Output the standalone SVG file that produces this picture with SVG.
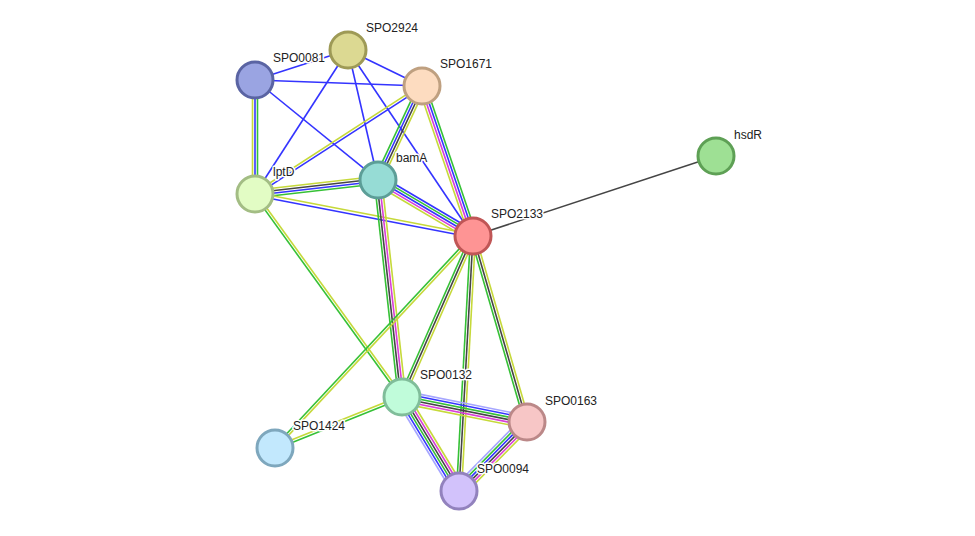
<svg xmlns="http://www.w3.org/2000/svg" width="975" height="536" viewBox="0 0 975 536">
<style>
line{stroke-width:1.6;fill:none}
.g{stroke:#36c136}.y{stroke:#c6d93a}.b{stroke:#3434ff}.k{stroke:#454545}.m{stroke:#d83ed8}.l{stroke:#a6a6ff}
.n circle{stroke-width:3}
text{font-family:"Liberation Sans",Arial,sans-serif;font-size:12px;fill:#222;stroke:#fff;stroke-width:3px;paint-order:stroke;stroke-linejoin:round}
</style>
<rect width="975" height="536" fill="#fff"/>
<g id="edges">
<g transform="translate(255,80) rotate(-17.88)"><line x2="97.7" class="b"/></g>
<g transform="translate(255,80) rotate(2.06)"><line x2="167.1" class="b"/></g>
<g transform="translate(255,80) rotate(39.11)"><line x2="158.5" class="b"/></g>
<g transform="translate(255,80) rotate(90)"><line x2="114" y1="2.5" y2="2.5" class="y"/><line x2="114" class="b"/><line x2="114" y1="-2.5" y2="-2.5" class="g"/></g>
<g transform="translate(348,50) rotate(25.94)"><line x2="82.3" class="b"/></g>
<g transform="translate(348,50) rotate(122.86)"><line x2="171.4" class="b"/></g>
<g transform="translate(348,50) rotate(77.01)"><line x2="133.4" class="b"/></g>
<g transform="translate(348,50) rotate(56.1)"><line x2="224.1" class="b"/></g>
<g transform="translate(422,86) rotate(147.1)"><line x2="198.9" y1="1.25" y2="1.25" class="y"/><line x2="198.9" y1="-1.25" y2="-1.25" class="b"/></g>
<g transform="translate(422,86) rotate(115.08)"><line x2="103.8" y1="3.75" y2="3.75" class="g"/><line x2="103.8" y1="1.25" y2="1.25" class="b"/><line x2="103.8" y1="-1.25" y2="-1.25" class="k"/><line x2="103.8" y1="-3.75" y2="-3.75" class="y"/></g>
<g transform="translate(422,86) rotate(71.22)"><line x2="158.4" y1="3.75" y2="3.75" class="y"/><line x2="158.4" y1="1.25" y2="1.25" class="m"/><line x2="158.4" y1="-1.25" y2="-1.25" class="b"/><line x2="158.4" y1="-3.75" y2="-3.75" class="g"/></g>
<g transform="translate(255,194) rotate(-6.49)"><line x2="123.8" y1="-3.75" y2="-3.75" class="y"/><line x2="123.8" y1="-1.25" y2="-1.25" class="k"/><line x2="123.8" y1="1.25" y2="1.25" class="b"/><line x2="123.8" y1="3.75" y2="3.75" class="g"/></g>
<g transform="translate(255,194) rotate(10.91)"><line x2="222" y1="-1.5" y2="-1.5" class="y"/><line x2="222" y1="1.5" y2="1.5" class="b"/></g>
<g transform="translate(255,194) rotate(54.09)"><line x2="250.6" y1="1.25" y2="1.25" class="g"/><line x2="250.6" y1="-1.25" y2="-1.25" class="y"/></g>
<g transform="translate(378,180) rotate(30.52)"><line x2="110.3" y1="-5" y2="-5" class="b"/><line x2="110.3" y1="-2.5" y2="-2.5" class="g"/><line x2="110.3" class="b"/><line x2="110.3" y1="2.5" y2="2.5" class="m"/><line x2="110.3" y1="5" y2="5" class="y"/></g>
<g transform="translate(378,180) rotate(83.69)"><line x2="218.3" y1="3.75" y2="3.75" class="g"/><line x2="218.3" y1="1.25" y2="1.25" class="k"/><line x2="218.3" y1="-1.25" y2="-1.25" class="m"/><line x2="218.3" y1="-3.75" y2="-3.75" class="y"/></g>
<g transform="translate(473,236) rotate(-18.22)"><line x2="255.8" class="k"/></g>
<g transform="translate(473,236) rotate(113.8)"><line x2="176" y1="2.5" y2="2.5" class="g"/><line x2="176" class="k"/><line x2="176" y1="-2.5" y2="-2.5" class="y"/></g>
<g transform="translate(473,236) rotate(133.04)"><line x2="290.1" y1="1.25" y2="1.25" class="g"/><line x2="290.1" y1="-1.25" y2="-1.25" class="y"/></g>
<g transform="translate(473,236) rotate(93.14)"><line x2="255.4" y1="2.5" y2="2.5" class="g"/><line x2="255.4" class="k"/><line x2="255.4" y1="-2.5" y2="-2.5" class="y"/></g>
<g transform="translate(473,236) rotate(73.81)"><line x2="193.7" y1="2.5" y2="2.5" class="g"/><line x2="193.7" class="k"/><line x2="193.7" y1="-2.5" y2="-2.5" class="y"/></g>
<g transform="translate(402,397) rotate(158.12)"><line x2="136.9" y1="1.25" y2="1.25" class="y"/><line x2="136.9" y1="-1.25" y2="-1.25" class="g"/></g>
<g transform="translate(402,397) rotate(11.31)"><line x2="127.5" y1="-6.25" y2="-6.25" class="l"/><line x2="127.5" y1="-3.75" y2="-3.75" class="b"/><line x2="127.5" y1="-1.25" y2="-1.25" class="g"/><line x2="127.5" y1="1.25" y2="1.25" class="k"/><line x2="127.5" y1="3.75" y2="3.75" class="m"/><line x2="127.5" y1="6.25" y2="6.25" class="y"/></g>
<g transform="translate(402,397) rotate(58.77)"><line x2="109.9" y1="6.25" y2="6.25" class="l"/><line x2="109.9" y1="3.75" y2="3.75" class="b"/><line x2="109.9" y1="1.25" y2="1.25" class="g"/><line x2="109.9" y1="-1.25" y2="-1.25" class="k"/><line x2="109.9" y1="-3.75" y2="-3.75" class="m"/><line x2="109.9" y1="-6.25" y2="-6.25" class="y"/></g>
<g transform="translate(527,422) rotate(134.59)"><line x2="96.9" y1="6.25" y2="6.25" class="l"/><line x2="96.9" y1="3.75" y2="3.75" class="g"/><line x2="96.9" y1="1.25" y2="1.25" class="b"/><line x2="96.9" y1="-1.25" y2="-1.25" class="k"/><line x2="96.9" y1="-3.75" y2="-3.75" class="m"/><line x2="96.9" y1="-6.25" y2="-6.25" class="y"/></g>
</g>
<g id="SPO0081" class="n"><circle cx="255" cy="80" r="18" fill="#9aa4e2" stroke="#5a64a3"/><text x="273" y="62">SPO0081</text></g>
<g id="SPO2924" class="n"><circle cx="348" cy="50" r="18" fill="#dcd992" stroke="#9e9a56"/><text x="366" y="32">SPO2924</text></g>
<g id="SPO1671" class="n"><circle cx="422" cy="86" r="18" fill="#fddcc0" stroke="#bfa080"/><text x="440" y="68">SPO1671</text></g>
<g id="lptD" class="n"><circle cx="255" cy="194" r="18" fill="#e2fcc4" stroke="#a3bd84"/><text x="273" y="176">lptD</text></g>
<g id="bamA" class="n"><circle cx="378" cy="180" r="18" fill="#96dcd5" stroke="#5c9e97"/><text x="396" y="162">bamA</text></g>
<g id="SPO2133" class="n"><circle cx="473" cy="236" r="18" fill="#fe9494" stroke="#c05656"/><text x="491" y="218">SPO2133</text></g>
<g id="hsdR" class="n"><circle cx="716" cy="156" r="18" fill="#9ee094" stroke="#5ea055"/><text x="734" y="139">hsdR</text></g>
<g id="SPO0132" class="n"><circle cx="402" cy="397" r="18" fill="#c0fcda" stroke="#80bd9a"/><text x="420" y="379">SPO0132</text></g>
<g id="SPO1424" class="n"><circle cx="275" cy="448" r="18" fill="#c2e8fd" stroke="#7ea7bd"/><text x="293" y="430">SPO1424</text></g>
<g id="SPO0163" class="n"><circle cx="527" cy="422" r="18" fill="#f7c6c6" stroke="#bb8888"/><text x="545" y="405">SPO0163</text></g>
<g id="SPO0094" class="n"><circle cx="459" cy="491" r="18" fill="#d2c2fb" stroke="#9282bd"/><text x="477" y="473">SPO0094</text></g>
</svg>
